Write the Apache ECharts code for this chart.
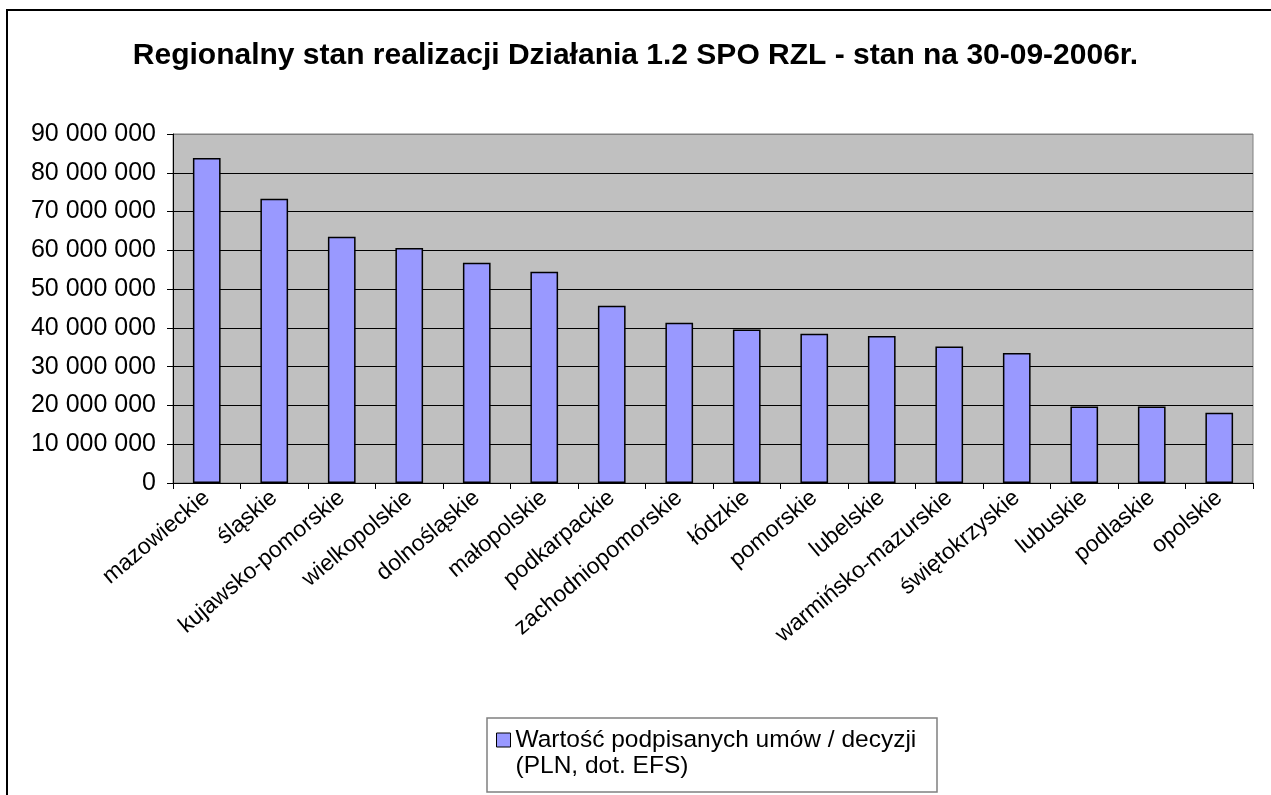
<!DOCTYPE html>
<html lang="pl">

<head>
    <meta charset="UTF-8">
    <title>Regionalny stan realizacji Działania 1.2 SPO RZL</title>
    <script src="https://cdn.jsdelivr.net/npm/echarts@6/dist/echarts.min.js"></script>
    <style>
        html, body { margin: 0; padding: 0; background: #fff; }
        #chart { width: 1271px; height: 795px; }
    </style>
</head>

<body>
    <div id="chart"></div>
    <script>
        // dane
        var regiony = ['mazowieckie', 'śląskie', 'kujawsko-pomorskie', 'wielkopolskie', 'dolnośląskie',
            'małopolskie', 'podkarpackie', 'zachodniopomorskie', 'łódzkie', 'pomorskie', 'lubelskie',
            'warmińsko-mazurskie', 'świętokrzyskie', 'lubuskie', 'podlaskie', 'opolskie'];
        var wartosci = [83800000, 73300000, 63500000, 60600000, 56800000, 54500000, 45700000, 41300000,
            39600000, 38500000, 37900000, 35200000, 33500000, 19700000, 19700000, 18100000];
        var seriaNazwa = 'Wartość podpisanych umów / decyzji\n(PLN, dot. EFS)';
        var tytul = 'Regionalny stan realizacji Działania 1.2 SPO RZL - stan na 30-09-2006r.';

        var font = '"Liberation Sans", Arial, sans-serif';

        function fmt(v) {
            return String(v).replace(/\B(?=(\d{3})+(?!\d))/g, ' ');
        }

        var chart = echarts.init(document.getElementById('chart'));
        chart.setOption({
            animation: false,
            textStyle: { fontFamily: font },
            title: {
                text: tytul,
                left: 'center',
                top: 36,
                textStyle: { fontSize: 30, fontWeight: 'bold', color: '#000', fontFamily: font }
            },
            grid: {
                left: 173,
                right: 18,
                top: 134,
                bottom: 312,
                show: true,
                backgroundColor: '#C0C0C0',
                borderColor: '#808080',
                borderWidth: 1
            },
            legend: {
                data: [seriaNazwa],
                left: 496,
                top: 701,
                padding: 0,
                icon: 'rect',
                itemWidth: 14,
                itemHeight: 14,
                itemGap: 0,
                itemStyle: { borderColor: '#000', borderWidth: 1 },
                // pusta pierwsza linia, zeby znacznik stal przy pierwszym wierszu
                formatter: function (name) { return '\n' + name; },
                textStyle: {
                    fontSize: 24.5,
                    lineHeight: 26,
                    color: '#000',
                    fontFamily: font
                }
            },
            xAxis: {
                type: 'category',
                data: regiony,
                axisLine: { lineStyle: { color: '#000', width: 1 } },
                axisTick: { show: true, length: 6, lineStyle: { color: '#000' } },
                axisLabel: {
                    rotate: 40,
                    interval: 0,
                    margin: 12,
                    fontSize: 23,
                    color: '#000',
                    fontFamily: font
                }
            },
            yAxis: {
                type: 'value',
                min: 0,
                max: 90000000,
                interval: 10000000,
                axisLine: { show: true, lineStyle: { color: '#000', width: 1 } },
                axisTick: { show: true, length: 6, lineStyle: { color: '#000' } },
                axisLabel: {
                    margin: 17,
                    fontSize: 25,
                    color: '#000',
                    fontFamily: font,
                    formatter: fmt
                },
                splitLine: {
                    show: true,
                    lineStyle: {
                        color: ['#000', '#000', '#000', '#000', '#000', '#000', '#000', '#000', '#000', '#808080'],
                        width: 1
                    }
                }
            },
            series: [{
                name: seriaNazwa,
                type: 'bar',
                data: wartosci,
                barWidth: '41%',
                itemStyle: { color: '#9999FF', borderColor: '#000', borderWidth: 1.5 }
            }],
            graphic: [{
                type: 'rect',
                silent: true,
                z: -10,
                shape: { x: 7, y: 10, width: 1300, height: 820 },
                style: { fill: null, stroke: '#000', lineWidth: 2 }
            }, {
                type: 'rect',
                silent: true,
                shape: { x: 487, y: 718, width: 450, height: 74 },
                style: { fill: null, stroke: '#808080', lineWidth: 1.5 }
            }]
        });
    </script>
</body>

</html>
